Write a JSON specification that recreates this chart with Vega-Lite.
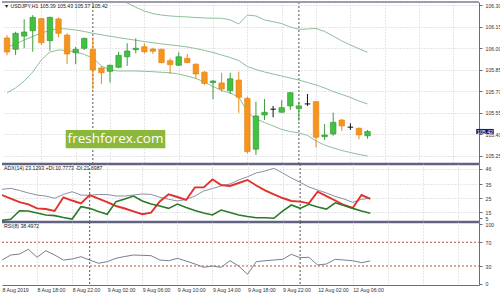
{
  "$schema": "https://vega.github.io/schema/vega-lite/v6.json",
  "padding": {"left": 0, "top": 1, "right": 0, "bottom": 0},
  "background": "white",
  "spacing": 0,
  "bounds": "flush",
  "config": {
    "view": {"stroke": null},
    "font": "Liberation Sans",
    "axis": {"labelFont": "Liberation Sans", "labelFontSize": 5.2, "labelColor": "#333333", "domainColor": "#6a6a8a", "tickColor": "#6a6a8a", "tickSize": 3, "labelPadding": 3, "gridColor": "#cccccc", "gridDash": [1, 2], "labelOverlap": false},
    "title": {"font": "Liberation Sans", "fontSize": 5.2, "fontWeight": "normal", "color": "#222222", "anchor": "start", "frame": "group"}
  },
  "datasets": {
    "bars": [
      {"i":0,"t":"8 Aug 14:00","open":106.071,"high":106.09,"low":105.95,"close":105.973,"up":106.42,"mid":106.008,"lo":105.688,"adx":31.2,"pdi":9.0,"mdi":27.1,"rsi":40.1},
      {"i":1,"t":"8 Aug 15:00","open":105.992,"high":106.114,"low":105.952,"close":106.103,"up":106.42,"mid":106.029,"lo":105.723,"adx":31.9,"pdi":9.8,"mdi":24.6,"rsi":48.5},
      {"i":2,"t":"8 Aug 16:00","open":106.084,"high":106.201,"low":105.999,"close":106.112,"up":106.43,"mid":106.057,"lo":105.771,"adx":30.4,"pdi":15.9,"mdi":22.1,"rsi":50.2},
      {"i":3,"t":"8 Aug 17:00","open":106.121,"high":106.23,"low":105.975,"close":106.214,"up":106.44,"mid":106.081,"lo":105.834,"adx":28.6,"pdi":15.7,"mdi":20.4,"rsi":58.2},
      {"i":4,"t":"8 Aug 18:00","open":106.205,"high":106.208,"low":106.022,"close":106.038,"up":106.45,"mid":106.105,"lo":105.918,"adx":27.1,"pdi":14.3,"mdi":17.6,"rsi":44.7},
      {"i":5,"t":"8 Aug 19:00","open":106.052,"high":106.219,"low":105.982,"close":106.214,"up":106.46,"mid":106.123,"lo":105.973,"adx":26.4,"pdi":12.9,"mdi":17.1,"rsi":55.8},
      {"i":6,"t":"8 Aug 20:00","open":106.203,"high":106.214,"low":106.075,"close":106.103,"up":106.46,"mid":106.137,"lo":105.987,"adx":24.8,"pdi":12.4,"mdi":15.7,"rsi":48.5},
      {"i":7,"t":"8 Aug 21:00","open":106.091,"high":106.103,"low":105.89,"close":105.959,"up":106.45,"mid":106.133,"lo":105.984,"adx":27.6,"pdi":11.1,"mdi":25.5,"rsi":40.1},
      {"i":8,"t":"8 Aug 22:00","open":105.968,"high":106.01,"low":105.888,"close":105.992,"up":106.44,"mid":106.126,"lo":105.973,"adx":29.5,"pdi":10.0,"mdi":23.2,"rsi":41.8},
      {"i":9,"t":"8 Aug 23:00","open":105.999,"high":106.073,"low":105.987,"close":106.068,"up":106.42,"mid":106.116,"lo":105.956,"adx":27.1,"pdi":18.8,"mdi":21.2,"rsi":45.7},
      {"i":10,"t":"9 Aug 00:00","open":105.992,"high":106.075,"low":105.714,"close":105.848,"up":106.4,"mid":106.103,"lo":105.931,"adx":26.9,"pdi":17.6,"mdi":27.1,"rsi":40.1},
      {"i":11,"t":"9 Aug 01:00","open":105.862,"high":105.876,"low":105.751,"close":105.829,"up":106.38,"mid":106.093,"lo":105.876,"adx":27.5,"pdi":15.4,"mdi":24.6,"rsi":34.6},
      {"i":12,"t":"9 Aug 02:00","open":105.839,"high":105.885,"low":105.76,"close":105.881,"up":106.35,"mid":106.083,"lo":105.848,"adx":27.5,"pdi":13.4,"mdi":22.1,"rsi":37.3},
      {"i":13,"t":"9 Aug 03:00","open":105.867,"high":105.975,"low":105.86,"close":105.95,"up":106.33,"mid":106.073,"lo":105.841,"adx":26.4,"pdi":22.4,"mdi":19.3,"rsi":43.0},
      {"i":14,"t":"9 Aug 04:00","open":105.94,"high":106.034,"low":105.876,"close":105.98,"up":106.315,"mid":106.064,"lo":105.841,"adx":26.4,"pdi":24.3,"mdi":17.5,"rsi":46.0},
      {"i":15,"t":"9 Aug 05:00","open":105.989,"high":106.068,"low":105.964,"close":105.999,"up":106.284,"mid":106.055,"lo":105.841,"adx":27.1,"pdi":26.4,"mdi":15.4,"rsi":48.5},
      {"i":16,"t":"9 Aug 06:00","open":106.01,"high":106.034,"low":105.964,"close":105.975,"up":106.258,"mid":106.046,"lo":105.839,"adx":27.9,"pdi":22.9,"mdi":13.4,"rsi":48.0},
      {"i":17,"t":"9 Aug 07:00","open":105.994,"high":106.003,"low":105.959,"close":105.978,"up":106.24,"mid":106.038,"lo":105.836,"adx":27.6,"pdi":20.7,"mdi":14.5,"rsi":47.4},
      {"i":18,"t":"9 Aug 08:00","open":105.992,"high":105.996,"low":105.895,"close":105.899,"up":106.23,"mid":106.03,"lo":105.832,"adx":25.5,"pdi":19.3,"mdi":22.5,"rsi":40.1},
      {"i":19,"t":"9 Aug 09:00","open":105.913,"high":105.929,"low":105.82,"close":105.885,"up":106.224,"mid":106.023,"lo":105.829,"adx":24.1,"pdi":17.6,"mdi":27.6,"rsi":38.9},
      {"i":20,"t":"9 Aug 10:00","open":105.881,"high":105.971,"low":105.878,"close":105.94,"up":106.22,"mid":106.016,"lo":105.82,"adx":22.9,"pdi":20.7,"mdi":25.7,"rsi":43.0},
      {"i":21,"t":"9 Aug 11:00","open":105.929,"high":105.959,"low":105.895,"close":105.899,"up":106.217,"mid":106.008,"lo":105.806,"adx":23.9,"pdi":18.2,"mdi":23.6,"rsi":38.4},
      {"i":22,"t":"9 Aug 12:00","open":105.888,"high":105.895,"low":105.785,"close":105.82,"up":106.213,"mid":105.997,"lo":105.789,"adx":26.4,"pdi":16.1,"mdi":32.6,"rsi":33.4},
      {"i":23,"t":"9 Aug 13:00","open":105.832,"high":105.841,"low":105.744,"close":105.755,"up":106.21,"mid":105.984,"lo":105.765,"adx":30.0,"pdi":14.3,"mdi":32.6,"rsi":27.8},
      {"i":24,"t":"9 Aug 14:00","open":105.76,"high":105.778,"low":105.644,"close":105.771,"up":106.208,"mid":105.97,"lo":105.733,"adx":31.8,"pdi":12.9,"mdi":38.2,"rsi":30.0},
      {"i":25,"t":"9 Aug 15:00","open":105.758,"high":105.829,"low":105.697,"close":105.716,"up":106.208,"mid":105.952,"lo":105.705,"adx":33.6,"pdi":16.4,"mdi":34.3,"rsi":27.8},
      {"i":26,"t":"9 Aug 16:00","open":105.704,"high":105.829,"low":105.681,"close":105.787,"up":106.196,"mid":105.935,"lo":105.688,"adx":35.0,"pdi":14.6,"mdi":33.6,"rsi":38.9},
      {"i":27,"t":"9 Aug 17:00","open":105.778,"high":105.836,"low":105.551,"close":105.658,"up":106.168,"mid":105.914,"lo":105.66,"adx":37.9,"pdi":12.9,"mdi":35.7,"rsi":30.0},
      {"i":28,"t":"9 Aug 18:00","open":105.651,"high":105.662,"low":105.267,"close":105.28,"up":106.23,"mid":105.872,"lo":105.556,"adx":40.2,"pdi":11.8,"mdi":37.9,"rsi":16.0},
      {"i":29,"t":"9 Aug 19:00","open":105.297,"high":105.628,"low":105.257,"close":105.528,"up":106.224,"mid":105.851,"lo":105.507,"adx":42.9,"pdi":10.9,"mdi":33.9,"rsi":37.3},
      {"i":30,"t":"9 Aug 20:00","open":105.535,"high":105.646,"low":105.5,"close":105.554,"up":106.196,"mid":105.834,"lo":105.483,"adx":44.3,"pdi":10.9,"mdi":30.4,"rsi":38.9},
      {"i":31,"t":"9 Aug 21:00","open":105.575,"high":105.598,"low":105.519,"close":105.575,"up":106.184,"mid":105.82,"lo":105.459,"adx":46.2,"pdi":10.5,"mdi":27.6,"rsi":40.1},
      {"i":32,"t":"9 Aug 22:00","open":105.554,"high":105.639,"low":105.551,"close":105.586,"up":106.171,"mid":105.806,"lo":105.434,"adx":42.9,"pdi":15.7,"mdi":25.0,"rsi":41.3},
      {"i":33,"t":"9 Aug 23:00","open":105.598,"high":105.695,"low":105.57,"close":105.69,"up":106.147,"mid":105.792,"lo":105.42,"adx":39.3,"pdi":20.0,"mdi":22.9,"rsi":49.7},
      {"i":34,"t":"12 Aug 00:00","open":105.579,"high":105.628,"low":105.495,"close":105.598,"up":106.131,"mid":105.778,"lo":105.41,"adx":36.2,"pdi":17.6,"mdi":22.4,"rsi":44.0},
      {"i":35,"t":"12 Aug 01:00","open":105.612,"high":105.681,"low":105.598,"close":105.612,"up":106.133,"mid":105.761,"lo":105.393,"adx":32.9,"pdi":20.5,"mdi":21.2,"rsi":44.7},
      {"i":36,"t":"12 Aug 02:00","open":105.628,"high":105.63,"low":105.31,"close":105.38,"up":106.137,"mid":105.744,"lo":105.354,"adx":30.7,"pdi":18.6,"mdi":29.5,"rsi":31.7},
      {"i":37,"t":"12 Aug 03:00","open":105.384,"high":105.472,"low":105.361,"close":105.396,"up":106.116,"mid":105.723,"lo":105.326,"adx":28.6,"pdi":17.1,"mdi":26.4,"rsi":33.4},
      {"i":38,"t":"12 Aug 04:00","open":105.403,"high":105.551,"low":105.391,"close":105.484,"up":106.084,"mid":105.698,"lo":105.306,"adx":26.1,"pdi":21.6,"mdi":23.2,"rsi":41.3},
      {"i":39,"t":"12 Aug 05:00","open":105.5,"high":105.507,"low":105.424,"close":105.459,"up":106.05,"mid":105.678,"lo":105.288,"adx":24.3,"pdi":19.6,"mdi":20.0,"rsi":40.1},
      {"i":40,"t":"12 Aug 06:00","open":105.45,"high":105.477,"low":105.431,"close":105.45,"up":106.022,"mid":105.657,"lo":105.274,"adx":21.9,"pdi":17.6,"mdi":17.9,"rsi":38.9},
      {"i":41,"t":"12 Aug 07:00","open":105.443,"high":105.447,"low":105.366,"close":105.396,"up":105.996,"mid":105.632,"lo":105.26,"adx":24.1,"pdi":15.7,"mdi":27.1,"rsi":35.6},
      {"i":42,"t":"12 Aug 08:00","open":105.39,"high":105.43,"low":105.37,"close":105.42,"up":105.971,"mid":105.612,"lo":105.25,"adx":24.8,"pdi":14.1,"mdi":24.3,"rsi":38.5}
    ],
    "sep": [{"i": 10}, {"i": 34}],
    "levels": [{"level": 70}, {"level": 30}],
    "brand": [{"site": "freshforex.com"}],
    "last": [{"price": 105.42}]
  },
  "vconcat": [
    {
      "width": 477,
      "height": 162,
      "title": {"text": "▼ USDJPY,H1  105.39 105.43 105.37 105.42", "offset": -8, "dx": 2},
      "resolve": {"axis": {"x": "independent", "y": "independent"}},
      "layer": [
        {
          "data": {"name": "bars"},
          "resolve": {"axis": {"y": "independent"}},
          "encoding": {
            "x": {"field": "i", "type": "quantitative", "title": null, "scale": {"domain": [0, 54.4], "nice": false, "zero": false},
              "axis": {"values": [4, 8, 12, 16, 20, 24, 28, 32, 36, 40, 44, 48, 52], "labels": false, "ticks": false, "domain": false, "grid": true}}
          },
          "layer": [
            {"data": {"name": "sep"}, "mark": {"type": "rule", "color": "#555555", "strokeWidth": 1, "strokeDash": [2, 2]}, "encoding": {}},
            {"mark": {"type": "line", "color": "#8dbf9c", "strokeWidth": 1, "clip": true},
              "encoding": {"y": {"field": "up", "type": "quantitative", "title": null, "scale": {"domain": [105.194, 106.321], "nice": false, "zero": false},
                "axis": {"orient": "right", "values": [105.25, 105.4, 105.55, 105.7, 105.85, 106.0, 106.15, 106.3], "format": ".2f", "grid": true, "labelOverlap": false, "labelBound": false}}}},
            {"mark": {"type": "line", "color": "#8dbf9c", "strokeWidth": 1, "clip": true},
              "encoding": {"y": {"field": "mid", "type": "quantitative", "title": null, "axis": null, "scale": {"domain": [105.194, 106.321], "nice": false, "zero": false}}}},
            {"mark": {"type": "line", "color": "#8dbf9c", "strokeWidth": 1, "clip": true},
              "encoding": {"y": {"field": "lo", "type": "quantitative", "title": null, "axis": null, "scale": {"domain": [105.194, 106.321], "nice": false, "zero": false}}}},
            {"mark": {"type": "rule", "strokeWidth": 1, "clip": true},
              "encoding": {
                "y": {"field": "low", "type": "quantitative", "title": null, "axis": null, "scale": {"domain": [105.194, 106.321], "nice": false, "zero": false}},
                "y2": {"field": "high"},
                "color": {"condition": [{"test": "datum.close == datum.open", "value": "#111111"}, {"test": "datum.close > datum.open", "value": "#3a9e3a"}], "value": "#e98a12"}
              }},
            {"mark": {"type": "bar", "width": 5.5, "strokeWidth": 0.6, "clip": true},
              "encoding": {
                "y": {"field": "open", "type": "quantitative", "title": null, "axis": null, "scale": {"domain": [105.194, 106.321], "nice": false, "zero": false}},
                "y2": {"field": "close"},
                "fill": {"condition": [{"test": "datum.close == datum.open", "value": "#111111"}, {"test": "datum.close > datum.open", "value": "#42c242"}], "value": "#f7941d"},
                "stroke": {"condition": [{"test": "datum.close == datum.open", "value": "#111111"}, {"test": "datum.close > datum.open", "value": "#2f8f2f"}], "value": "#e0800c"}
              }}
          ]
        },
        {"data": {"name": "brand"},
          "mark": {"type": "rect", "color": "#8bb73b"},
          "encoding": {
            "x": {"datum": 6.84, "type": "quantitative", "axis": null, "scale": {"domain": [0, 54.4], "nice": false, "zero": false}}, "x2": {"datum": 18.44},
            "y": {"datum": 105.431, "type": "quantitative", "axis": null, "scale": {"domain": [105.194, 106.321], "nice": false, "zero": false}}, "y2": {"datum": 105.303}
          }},
        {"data": {"name": "brand"},
          "mark": {"type": "text", "font": "Open Sans", "fontSize": 13.5, "color": "white", "align": "center", "baseline": "middle"},
          "encoding": {
            "x": {"datum": 12.64, "type": "quantitative", "axis": null, "scale": {"domain": [0, 54.4], "nice": false, "zero": false}},
            "y": {"datum": 105.367, "type": "quantitative", "axis": null, "scale": {"domain": [105.194, 106.321], "nice": false, "zero": false}},
            "text": {"field": "site"}
          }},
        {"data": {"name": "last"},
          "mark": {"type": "rect", "color": "#1c1c6a", "clip": false},
          "encoding": {
            "x": {"datum": 54.66, "type": "quantitative", "axis": null, "scale": {"domain": [0, 54.4], "nice": false, "zero": false}}, "x2": {"datum": 56.7},
            "y": {"datum": 105.438, "type": "quantitative", "axis": null, "scale": {"domain": [105.194, 106.321], "nice": false, "zero": false}}, "y2": {"datum": 105.402}
          }},
        {"data": {"name": "last"},
          "mark": {"type": "text", "fontSize": 5.2, "color": "white", "align": "center", "baseline": "middle", "clip": false},
          "encoding": {
            "x": {"datum": 55.68, "type": "quantitative", "axis": null, "scale": {"domain": [0, 54.4], "nice": false, "zero": false}},
            "y": {"field": "price", "type": "quantitative", "axis": null, "scale": {"domain": [105.194, 106.321], "nice": false, "zero": false}},
            "text": {"field": "price", "format": ".2f"}
          }},
        {"data": {"name": "last"},
          "mark": {"type": "rule", "color": "#9c9cae", "strokeWidth": 2, "clip": false},
          "encoding": {"x": {"value": 0}, "x2": {"value": 477}, "y": {"datum": 106.321, "type": "quantitative", "axis": null, "scale": {"domain": [105.194, 106.321], "nice": false, "zero": false}}}},
        {"data": {"name": "last"},
          "mark": {"type": "rule", "color": "#626282", "strokeWidth": 2.5, "clip": false},
          "encoding": {"x": {"value": 0}, "x2": {"value": 477}, "y": {"datum": 105.194, "type": "quantitative", "axis": null, "scale": {"domain": [105.194, 106.321], "nice": false, "zero": false}}}}
      ]
    },
    {
      "width": 477,
      "height": 58,
      "title": {"text": "ADX(14) 23.1293 +DI:10.7773 -DI:21.6987", "offset": -8, "dx": 2},
      "data": {"name": "bars"},
      "resolve": {"axis": {"y": "independent"}},
      "encoding": {
        "x": {"field": "i", "type": "quantitative", "title": null, "scale": {"domain": [0, 54.4], "nice": false, "zero": false},
          "axis": {"values": [4, 8, 12, 16, 20, 24, 28, 32, 36, 40, 44, 48, 52], "labels": false, "ticks": false, "domain": false, "grid": true}}
      },
      "layer": [
        {"data": {"name": "sep"}, "mark": {"type": "rule", "color": "#555555", "strokeWidth": 1, "strokeDash": [2, 2]}, "encoding": {}},
        {"mark": {"type": "line", "color": "#8e8ea6", "strokeWidth": 1, "clip": true},
          "encoding": {"y": {"field": "adx", "type": "quantitative", "title": null, "scale": {"domain": [7.86, 49.29], "nice": false, "zero": false},
            "axis": {"orient": "right", "values": [46, 35, 25, 15, 10.4], "labelExpr": "datum.value < 11 ? '5' : datum.label", "grid": true, "labelOverlap": false, "labelBound": false,
              "gridOpacity": {"condition": {"test": "datum.value < 11", "value": 0}, "value": 1}}}}},
        {"mark": {"type": "line", "color": "#e0322c", "strokeWidth": 1.9, "clip": true},
          "encoding": {"y": {"field": "mdi", "type": "quantitative", "title": null, "axis": null, "scale": {"domain": [7.86, 49.29], "nice": false, "zero": false}}}},
        {"mark": {"type": "line", "color": "#2a7a2a", "strokeWidth": 1.6, "clip": true},
          "encoding": {"y": {"field": "pdi", "type": "quantitative", "title": null, "axis": null, "scale": {"domain": [7.86, 49.29], "nice": false, "zero": false}}}},
        {"data": {"name": "last"}, "mark": {"type": "rule", "color": "#626282", "strokeWidth": 2.5, "clip": false},
          "encoding": {"x": {"value": 0}, "x2": {"value": 477}, "y": {"datum": 7.86, "type": "quantitative", "axis": null, "scale": {"domain": [7.86, 49.29], "nice": false, "zero": false}}}}
      ]
    },
    {
      "width": 477,
      "height": 63,
      "title": {"text": "RSI(8) 38.4972", "offset": -8, "dx": 2},
      "data": {"name": "bars"},
      "resolve": {"axis": {"y": "independent"}},
      "encoding": {
        "x": {"field": "i", "type": "quantitative", "title": null, "scale": {"domain": [0, 54.4], "nice": false, "zero": false},
          "axis": {"values": [0, 4, 8, 12, 16, 20, 24, 28, 32, 36, 40, 44, 48, 52], "ticks": false, "grid": true, "labelAlign": "left", "labelPadding": 2, "labelBound": false, "labelFlush": false, "labelOverlap": false,
            "gridOpacity": {"condition": {"test": "datum.value == 0", "value": 0}, "value": 1},
            "labelExpr": "['8 Aug 2019','8 Aug 18:00','8 Aug 22:00','9 Aug 02:00','9 Aug 06:00','9 Aug 10:00','9 Aug 14:00','9 Aug 18:00','9 Aug 22:00','12 Aug 02:00','12 Aug 06:00','','',''][datum.value / 4]"}}
      },
      "layer": [
        {"data": {"name": "sep"}, "mark": {"type": "rule", "color": "#555555", "strokeWidth": 1, "strokeDash": [2, 2]}, "encoding": {}},
        {"data": {"name": "levels"}, "mark": {"type": "rule", "color": "#b3563f", "strokeWidth": 1, "strokeDash": [2, 2]},
          "encoding": {"x": {"value": 0}, "x2": {"value": 477}, "y": {"field": "level", "type": "quantitative", "title": null, "scale": {"domain": [-2.04, 104.2], "nice": false, "zero": false},
            "axis": {"orient": "right", "values": [100, 70, 30, 0], "grid": false, "labelOverlap": false, "labelBound": false}}}},
        {"mark": {"type": "line", "color": "#7c7c8c", "strokeWidth": 1, "clip": true},
          "encoding": {"y": {"field": "rsi", "type": "quantitative", "title": null, "axis": null, "scale": {"domain": [-2.04, 104.2], "nice": false, "zero": false}}}}
      ]
    }
  ]
}
